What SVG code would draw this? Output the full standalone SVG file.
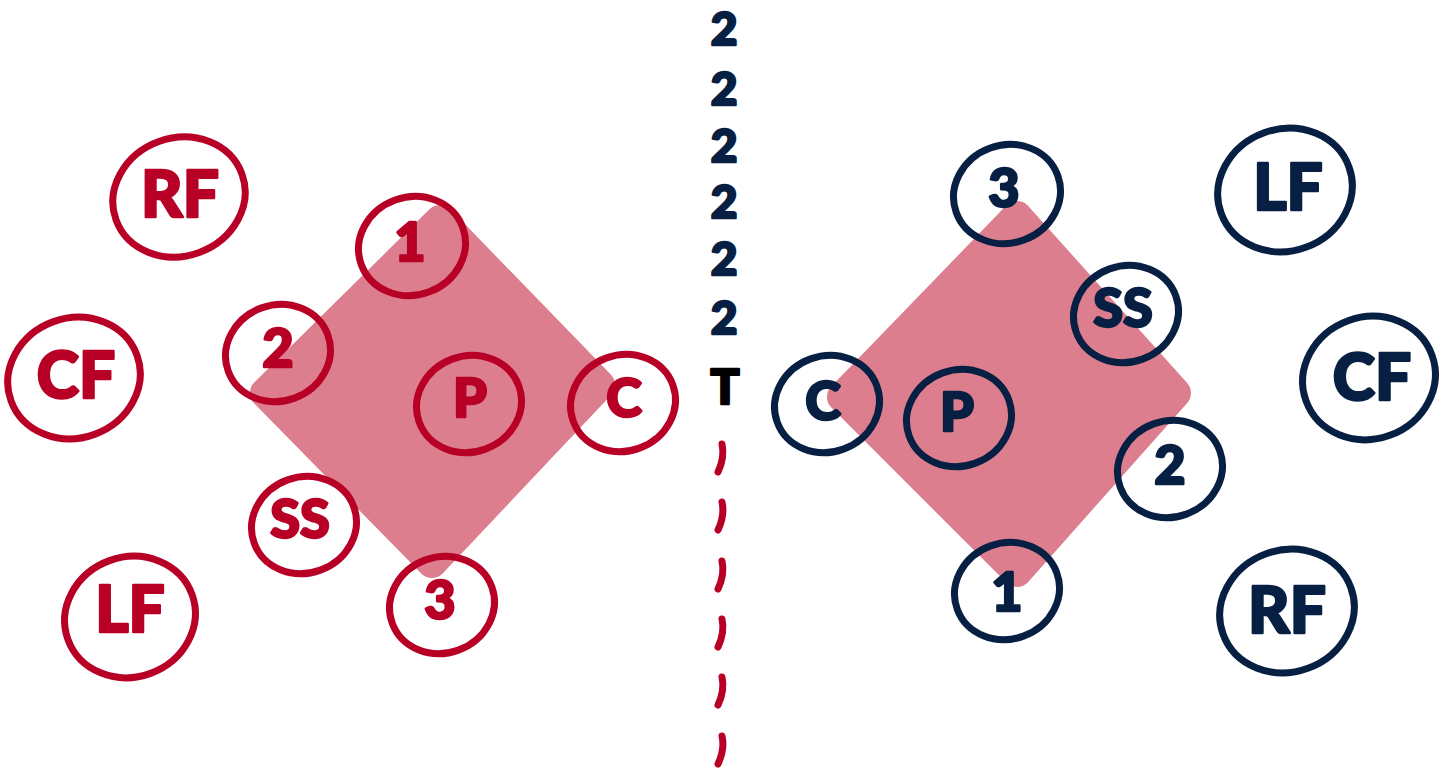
<svg xmlns="http://www.w3.org/2000/svg" width="1448" height="769" viewBox="0 0 1448 769">
<style>
.field{fill:#dd7e8e;stroke:#dd7e8e;stroke-width:30;stroke-linejoin:round}
.rc{fill:none;stroke:#b80026;stroke-width:7}
.nc{fill:none;stroke:#061f42;stroke-width:7}
.rt{fill:#b80026;stroke:#b80026}
.nt{fill:#061f42;stroke:#061f42}
text{font-family:Lato,"Liberation Sans",sans-serif;font-weight:900;text-anchor:middle;dominant-baseline:central;stroke-width:2.5;stroke-linejoin:round}
.big{font-size:64px}
.sm{font-size:54px}
.dash{fill:none;stroke:#b80026;stroke-width:7;stroke-linecap:round}
</style>
<rect width="1448" height="769" fill="#ffffff"/>
<g id="fields">
<polygon id="field-left" class="field" points="440,220 600,385 432,563 265,393"/>
<polygon id="field-right" class="field" points="1017,216 1176,393 1017,572 842,397"/>
</g>
<g id="left-team">
<g id="L-RF"><ellipse class="rc" cx="179" cy="197" rx="67" ry="59" transform="rotate(-20 179 197)"/><text class="rt big" x="180" y="192">RF</text></g>
<g id="L-CF"><ellipse class="rc" cx="74" cy="378" rx="67" ry="60" transform="rotate(-20 74 378)"/><text class="rt big" x="76" y="373">CF</text></g>
<g id="L-LF"><ellipse class="rc" cx="130" cy="617" rx="66" ry="60" transform="rotate(-20 130 617)"/><text class="rt big" x="130" y="607">LF</text></g>
<g id="L-1"><ellipse class="rc" cx="412" cy="246" rx="54" ry="49" transform="rotate(-20 412 246)"/><text class="rt sm" x="410" y="240">1</text></g>
<g id="L-2"><ellipse class="rc" cx="278" cy="353" rx="53" ry="48" transform="rotate(-20 278 353)"/><text class="rt sm" x="278" y="346">2</text></g>
<g id="L-P"><ellipse class="rc" cx="469" cy="404" rx="53" ry="48" transform="rotate(-20 469 404)"/><text class="rt sm" x="470" y="396">P</text></g>
<g id="L-C"><ellipse class="rc" cx="623" cy="403" rx="53" ry="48" transform="rotate(-20 623 403)"/><text class="rt sm" x="624" y="396">C</text></g>
<g id="L-SS"><ellipse class="rc" cx="304" cy="525" rx="53" ry="48" transform="rotate(-20 304 525)"/><text class="rt sm" x="300" y="517">SS</text></g>
<g id="L-3"><ellipse class="rc" cx="442" cy="605" rx="53" ry="48" transform="rotate(-20 442 605)"/><text class="rt sm" x="440" y="598">3</text></g>
</g>
<g id="right-team">
<g id="R-3"><ellipse class="nc" cx="1007" cy="194" rx="54" ry="49" transform="rotate(-20 1007 194)"/><text class="nt sm" x="1004" y="186">3</text></g>
<g id="R-LF"><ellipse class="nc" cx="1285" cy="190" rx="68" ry="61" transform="rotate(-20 1285 190)"/><text class="nt big" x="1288" y="185">LF</text></g>
<g id="R-SS"><ellipse class="nc" cx="1126" cy="314" rx="53" ry="48" transform="rotate(-20 1126 314)"/><text class="nt sm" x="1123" y="306">SS</text></g>
<g id="R-CF"><ellipse class="nc" cx="1369" cy="378" rx="67" ry="61" transform="rotate(-20 1369 378)"/><text class="nt big" x="1372" y="375">CF</text></g>
<g id="R-C"><ellipse class="nc" cx="827" cy="404" rx="53" ry="48" transform="rotate(-20 827 404)"/><text class="nt sm" x="823" y="399">C</text></g>
<g id="R-P"><ellipse class="nc" cx="959" cy="418" rx="53" ry="48" transform="rotate(-20 959 418)"/><text class="nt sm" x="957" y="410">P</text></g>
<g id="R-2"><ellipse class="nc" cx="1170" cy="469" rx="53" ry="48" transform="rotate(-20 1170 469)"/><text class="nt sm" x="1170" y="463">2</text></g>
<g id="R-1"><ellipse class="nc" cx="1007" cy="591" rx="53" ry="48" transform="rotate(-20 1007 591)"/><text class="nt sm" x="1007" y="590">1</text></g>
<g id="R-RF"><ellipse class="nc" cx="1287" cy="611" rx="68" ry="61" transform="rotate(-20 1287 611)"/><text class="nt big" x="1287" y="608">RF</text></g>
</g>
<g id="scoreboard">
<text class="nt" style="font-size:46px" x="724" y="27">2</text>
<text class="nt" style="font-size:46px" x="724" y="87">2</text>
<text class="nt" style="font-size:46px" x="724" y="144">2</text>
<text class="nt" style="font-size:46px" x="724" y="200">2</text>
<text class="nt" style="font-size:46px" x="724" y="257">2</text>
<text class="nt" style="font-size:46px" x="724" y="316">2</text>
<text style="font-size:48px;fill:#000;stroke:#000" x="725" y="385">T</text>
</g>
<g id="connectors">
<path class="dash" d="M722,444 Q725,457 718,472"/>
<path class="dash" d="M722,502 Q725,515 718,530"/>
<path class="dash" d="M722,561 Q725,574 718,589"/>
<path class="dash" d="M722,619 Q725,632 718,647"/>
<path class="dash" d="M722,677 Q725,690 718,705"/>
<path class="dash" d="M722,736 Q725,749 718,764"/>
</g>
</svg>
